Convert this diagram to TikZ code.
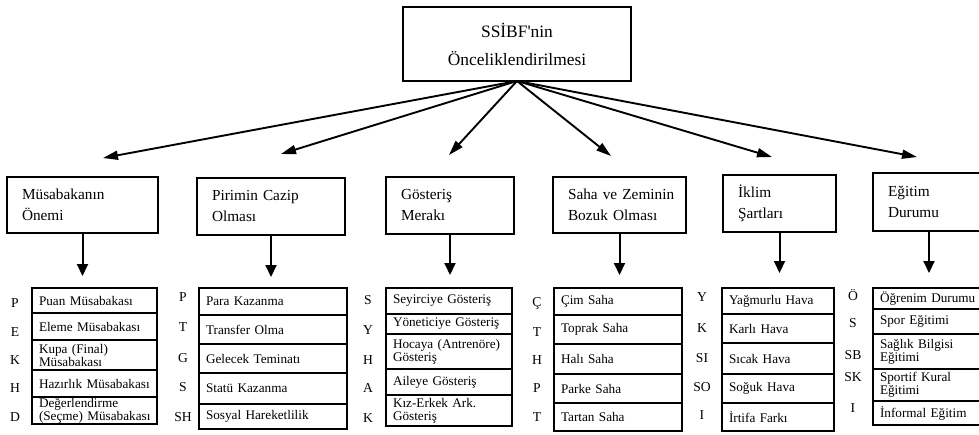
\documentclass[tikz,border=0pt]{standalone}
\usepackage{fontspec}
\setmainfont{Liberation Serif}
\usetikzlibrary{arrows.meta,positioning}
\hyphenpenalty=10000
\exhyphenpenalty=10000

\tikzset{
  topbox/.style={draw, line width=1.3pt, outer sep=0pt, align=center, minimum width=228pt, minimum height=74pt, font=\fontsize{17.4}{28}\selectfont},
  catbox/.style={draw, line width=1.3pt, outer sep=0pt, anchor=north west, inner xsep=15pt, align=left, font=\fontsize{15.3}{21}\selectfont},
  listrow/.style={draw, line width=1.1pt, outer sep=0pt, inner xsep=7pt, inner ysep=0pt, align=left, font=\fontsize{13.2}{13}\selectfont},
  letter/.style={inner sep=0pt, font=\fontsize{13.6}{13}\selectfont},
  bigarrow/.style={-{Triangle[length=15pt,width=9pt]}, line width=1.9pt},
  downarrow/.style={-{Triangle[length=12pt,width=11pt]}, line width=2pt}
}

\begin{document}
\begin{tikzpicture}[x=1pt, y=-1pt]
\useasboundingbox (0,0) rectangle (979,434);

% top
\node[topbox] (top) at (517,44) {SSİBF\textquotesingle nin\\Önceliklendirilmesi};

% categories
\node[catbox, text width=121pt, minimum height=56pt] (c1) at (7,177) {Müsabakanın\\Önemi};
\node[catbox, text width=118pt, minimum height=57pt] (c2) at (197,178) {Pirimin Cazip\\Olması};
\node[catbox, text width=98pt, minimum height=57pt] (c3) at (386,177) {Gösteriş\\Merakı};
\node[catbox, text width=103pt, minimum height=56pt] (c4) at (553,177) {Saha~ve~Zeminin\\Bozuk~Olması};
\node[catbox, text width=83pt, minimum height=57pt] (c5) at (723,175) {İklim\\Şartları};
\node[catbox, text width=82pt, minimum height=58pt] (c6) at (873,173) {Eğitim\\Durumu};

\coordinate (t1) at (103,158);
\coordinate (t2) at (281,154);
\coordinate (t3) at (449,155);
\coordinate (t4) at (611,156);
\coordinate (t5) at (772,157);
\coordinate (t6) at (917,157);
\path [bigarrow] (top.south) edge (t1);
\path [bigarrow] (top.south) edge (t2);
\path [bigarrow] (top.south) edge (t3);
\path [bigarrow] (top.south) edge (t4);
\path [bigarrow] (top.south) edge (t5);
\path [bigarrow] (top.south) edge (t6);

\coordinate (d1) at (c1.south |- 0,276);
\coordinate (d2) at (c2.south |- 0,277);
\coordinate (d3) at (c3.south |- 0,275);
\coordinate (d4) at (c4.south |- 0,275);
\coordinate (d5) at (c5.south |- 0,273);
\coordinate (d6) at (c6.south |- 0,273);
\path [downarrow] (c1.south) edge (d1);
\path [downarrow] (c2.south) edge (d2);
\path [downarrow] (c3.south) edge (d3);
\path [downarrow] (c4.south) edge (d4);
\path [downarrow] (c5.south) edge (d5);
\path [downarrow] (c6.south) edge (d6);

% list 1
\begin{scope}[listrow/.append style={text width=111pt}]
\node[listrow, anchor=north west, minimum height=25pt] (r1a) at (32,288) {Puan Müsabakası};
\node[listrow, below=0pt of r1a, minimum height=27pt] (r1b) {Eleme Müsabakası};
\node[listrow, below=0pt of r1b, minimum height=30pt] (r1c) {Kupa (Final)\\Müsabakası};
\node[listrow, below=0pt of r1c, minimum height=27pt] (r1d) {Hazırlık Müsabakası};
\node[listrow, below=0pt of r1d, minimum height=27pt] (r1e) {Değerlendirme\\(Seçme)~Müsabakası};
\end{scope}
\node[letter] (k1a) at (15,303) {P};
\node[letter] (k1b) at (15,332) {E};
\node[letter] (k1c) at (15,360) {K};
\node[letter] (k1d) at (15,388) {H};
\node[letter] (k1e) at (15,417) {D};

% list 2
\begin{scope}[listrow/.append style={text width=134pt}]
\node[listrow, anchor=north west, minimum height=27pt] (r2a) at (199,288) {Para Kazanma};
\node[listrow, below=0pt of r2a, minimum height=29pt] (r2b) {Transfer Olma};
\node[listrow, below=0pt of r2b, minimum height=29pt] (r2c) {Gelecek Teminatı};
\node[listrow, below=0pt of r2c, minimum height=31pt] (r2d) {Statü Kazanma};
\node[listrow, below=0pt of r2d, minimum height=25pt] (r2e) {Sosyal Hareketlilik};
\end{scope}
\node[letter] (k2a) at (183,297) {P};
\node[letter] (k2b) at (183,327) {T};
\node[letter] (k2c) at (183,358) {G};
\node[letter] (k2d) at (183,387) {S};
\node[letter] (k2e) at (183,417) {SH};

% list 3
\begin{scope}[listrow/.append style={text width=112pt}]
\node[listrow, anchor=north west, minimum height=26pt] (r3a) at (386,288) {Seyirciye Gösteriş};
\node[listrow, below=0pt of r3a, minimum height=20pt] (r3b) {Yöneticiye Gösteriş};
\node[listrow, below=0pt of r3b, minimum height=35pt] (r3c) {Hocaya (Antrenöre)\\Gösteriş};
\node[listrow, below=0pt of r3c, minimum height=26pt] (r3d) {Aileye Gösteriş};
\node[listrow, below=0pt of r3d, minimum height=31pt] (r3e) {Kız-Erkek Ark.\\Gösteriş};
\end{scope}
\node[letter] (k3a) at (368,300) {S};
\node[letter] (k3b) at (368,330) {Y};
\node[letter] (k3c) at (368,360) {H};
\node[letter] (k3d) at (368,388) {A};
\node[letter] (k3e) at (368,418) {K};

% list 4
\begin{scope}[listrow/.append style={text width=114pt}]
\node[listrow, anchor=north west, minimum height=27pt] (r4a) at (554,288) {Çim Saha};
\node[listrow, below=0pt of r4a, minimum height=29pt] (r4b) {Toprak Saha};
\node[listrow, below=0pt of r4b, minimum height=30pt] (r4c) {Halı Saha};
\node[listrow, below=0pt of r4c, minimum height=29pt] (r4d) {Parke Saha};
\node[listrow, below=0pt of r4d, minimum height=28pt] (r4e) {Tartan Saha};
\end{scope}
\node[letter] (k4a) at (537,303) {Ç};
\node[letter] (k4b) at (537,332) {T};
\node[letter] (k4c) at (537,360) {H};
\node[letter] (k4d) at (537,388) {P};
\node[letter] (k4e) at (537,417) {T};

% list 5
\begin{scope}[listrow/.append style={text width=98pt}]
\node[listrow, anchor=north west, minimum height=26pt] (r5a) at (722,288) {Yağmurlu Hava};
\node[listrow, below=0pt of r5a, minimum height=29pt] (r5b) {Karlı Hava};
\node[listrow, below=0pt of r5b, minimum height=31pt] (r5c) {Sıcak Hava};
\node[listrow, below=0pt of r5c, minimum height=29pt] (r5d) {Soğuk Hava};
\node[listrow, below=0pt of r5d, minimum height=28pt] (r5e) {İrtifa Farkı};
\end{scope}
\node[letter] (k5a) at (702,297) {Y};
\node[letter] (k5b) at (702,328) {K};
\node[letter] (k5c) at (702,358) {SI};
\node[letter] (k5d) at (702,387) {SO};
\node[letter] (k5e) at (702,415) {I};

% list 6
\begin{scope}[listrow/.append style={text width=103pt}]
\node[listrow, anchor=north west, minimum height=21pt] (r6a) at (873,288) {Öğrenim~Durumu};
\node[listrow, below=0pt of r6a, minimum height=25pt] (r6b) {Spor Eğitimi};
\node[listrow, below=0pt of r6b, minimum height=35pt] (r6c) {Sağlık Bilgisi\\Eğitimi};
\node[listrow, below=0pt of r6c, minimum height=32pt] (r6d) {Sportif Kural\\Eğitimi};
\node[listrow, below=0pt of r6d, minimum height=24pt] (r6e) {İnformal Eğitim};
\end{scope}
\node[letter] (k6a) at (853,295) {Ö};
\node[letter] (k6b) at (853,323) {S};
\node[letter] (k6c) at (853,355) {SB};
\node[letter] (k6d) at (853,377) {SK};
\node[letter] (k6e) at (853,408) {I};
\end{tikzpicture}
\end{document}
